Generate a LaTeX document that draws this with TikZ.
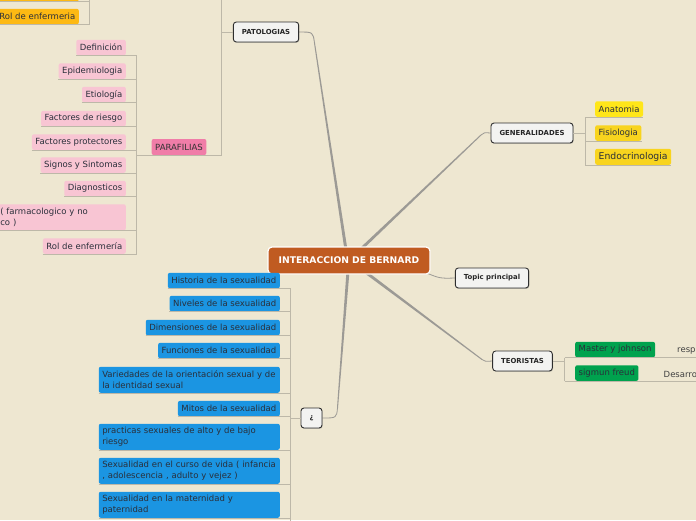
\documentclass[tikz,border=0pt]{standalone}
\usepackage{fontspec}
\setmainfont{DejaVu Sans}
\usetikzlibrary{calc,shadows}
\hyphenpenalty=10000\relax
\exhyphenpenalty=10000\relax
\definecolor{bgc}{HTML}{EEE7D1}
\definecolor{ctrc}{HTML}{C05B21}
\definecolor{bluec}{HTML}{1B95E2}
\definecolor{pinkc}{HTML}{F8C5D3}
\definecolor{parac}{HTML}{F07DA8}
\definecolor{orangec}{HTML}{FDB913}
\definecolor{yel1}{HTML}{FFE619}
\definecolor{yel2}{HTML}{F8D41E}
\definecolor{greenc}{HTML}{00A24E}
\definecolor{kidtext}{HTML}{2A2F3A}
\definecolor{hdrfill}{HTML}{F3F3F1}
\definecolor{hdrline}{HTML}{2E2E2E}
\definecolor{brkc}{HTML}{BDB8A8}
\definecolor{connc}{HTML}{9C9A95}
\pgfdeclarelayer{back}\pgfdeclarelayer{lines}
\pgfsetlayers{back,lines,main}
\newcommand\taperline[2]{\fill[connc] ($(#1)!1.5pt!90:(#2)$) -- ($(#2)!0.5pt!-90:(#1)$) -- ($(#2)!0.5pt!90:(#1)$) -- ($(#1)!1.5pt!-90:(#2)$) -- cycle;}
\tikzset{
  kid/.style={rounded corners=2pt, inner xsep=3.5pt, inner ysep=0pt, minimum height=15.5pt,
    font=\fontsize{8.5}{11}\selectfont, text=kidtext, anchor=south east},
  bluebox/.style={kid, fill=bluec},
  pinkbox/.style={kid, fill=pinkc},
  orangebox/.style={kid, fill=orangec},
  yelbox/.style={kid, fill=yel2, anchor=south west},
  greenbox/.style={kid, fill=greenc, anchor=south west},
  multi/.style={text width=174pt, align=left, minimum height=26pt},
  hdr/.style={draw=hdrline, line width=0.9pt, fill=hdrfill, rounded corners=3pt, minimum height=20pt,
    inner xsep=8.5pt, inner ysep=0pt, font=\bfseries\fontsize{6.9}{8}\selectfont, text=black!85,
    drop shadow={opacity=0.35, shadow xshift=0.7pt, shadow yshift=-0.9pt}},
  brk/.style={draw=brkc, line width=0.9pt},
  conn/.style={draw=connc, line width=0.8pt},
  plaintext/.style={inner sep=0pt, font=\fontsize{8.5}{11}\selectfont, text=black!75, anchor=west}
}
\begin{document}
\begin{tikzpicture}[x=1pt,y=-1pt]
\useasboundingbox (0,0) rectangle (696,520);
\begin{pgfonlayer}{back}
\fill[bgc] (0,0) rectangle (696,520);
\end{pgfonlayer}
\clip (0,0) rectangle (696,520);

% center
\node[rounded corners=4pt, fill=ctrc, draw=white, line width=1.2pt, minimum width=162pt, minimum height=27pt,
  font=\bfseries\fontsize{9.2}{11}\selectfont, text=white] (ctr) at (349,260.5) {INTERACCION DE BERNARD};

% headers
\node[hdr] (pat) at (266,32) {PATOLOGIAS};
\node[hdr] (gen) at (532,133) {GENERALIDADES};
\node[hdr] (top) at (492,278) {Topic principal};
\node[hdr] (teo) at (522.5,361) {TEORISTAS};
\node[hdr, minimum width=21pt, inner xsep=2pt] (q) at (311.5,418) {¿};

% bracket coordinates
\coordinate (tx) at (221.5,0);
\coordinate (txtop) at (221.5,-10);
\coordinate (px) at (136.5,0);
\coordinate (ox) at (89,0);
\coordinate (oxtop) at (89,-10);
\coordinate (bx) at (290.5,0);
\coordinate (bxend) at (290.5,530);
\coordinate (gx) at (585,0);
\coordinate (tex) at (564.5,0);
\coordinate (rx) at (700,0);

% orange (cut) children
\node[orangebox, minimum width=86pt] (o0) at (79,1.5) {};
\node[orangebox] (o1) at (79,24.5) {Rol de enfermeria};

% PARAFILIAS
\node[kid, fill=parac, anchor=center, minimum height=16pt, text=black!80] (para) at (179,147) {PARAFILIAS};
\node[pinkbox] (p1) at (126,55.5) {Definición};
\node[pinkbox] (p2) at (126,79) {Epidemiologia};
\node[pinkbox] (p3) at (126,102.5) {Etiología};
\node[pinkbox] (p4) at (126,126.5) {Factores de riesgo};
\node[pinkbox] (p5) at (126,150) {Factores protectores};
\node[pinkbox] (p6) at (126,173) {Signos y Sintomas};
\node[pinkbox] (p7) at (126,196.5) {Diagnosticos};
\node[pinkbox, text width=122pt, align=left, minimum height=26pt] (p8) at (126,230.5) {( farmacologico y no\\co )};
\node[pinkbox] (p9) at (126,254) {Rol de enfermería};

% generalidades children
\node[yelbox, fill=yel1] (g1) at (595,117) {Anatomia};
\node[yelbox] (g2) at (595,141) {Fisiologia};
\node[yelbox, minimum height=16pt, font=\fontsize{9.3}{11}\selectfont] (g3) at (595,165) {Endocrinologia};

% teoristas children
\node[greenbox] (t1) at (575,357.5) {Master y johnson};
\node[greenbox] (t2) at (575,381) {sigmun freud};
\node[plaintext] (t1a) at (677,350.5) {resp};
\node[plaintext] (t2a) at (663.5,374) {Desarro};

% blue children
\node[bluebox] (b1) at (280,288.5) {Historia de la sexualidad};
\node[bluebox] (b2) at (280,311.5) {Niveles de la sexualidad};
\node[bluebox] (b3) at (280,335.5) {Dimensiones de la sexualidad};
\node[bluebox] (b4) at (280,358.5) {Funciones de la sexualidad};
\node[bluebox, multi] (b5) at (280,393) {Variedades de la orientación sexual y de la identidad sexual};
\node[bluebox] (b6) at (280,416.5) {Mitos de la sexualidad};
\node[bluebox, multi] (b7) at (280,450) {practicas sexuales de alto y de bajo riesgo};
\node[bluebox, multi] (b8) at (280,484) {Sexualidad en el curso de vida ( infancia , adolescencia , adulto y vejez )};
\node[bluebox, multi] (b9) at (280,518) {Sexualidad en la maternidad y paternidad};

\begin{pgfonlayer}{lines}
% main connectors
\coordinate (s1) at (346,250);
\coordinate (e1) at (314.5,43);
\taperline{s1}{e1}
\draw[conn, line width=0.9pt] (e1) .. controls (313,32) .. (pat.east);
\coordinate (s2) at (360,250);
\coordinate (e2) at (481,135);
\taperline{s2}{e2}
\draw[conn] (e2) .. controls (484,132.5) .. (gen.west);
\coordinate (s3) at (424,272);
\draw[conn] (s3) .. controls (440,278.5) .. (top.west);
\coordinate (s4) at (364,271);
\coordinate (e4) at (482,359.5);
\taperline{s4}{e4}
\draw[conn] (e4) .. controls (485,361.5) .. (teo.west);
\coordinate (s5) at (348,271);
\coordinate (e5) at (337.5,408);
\taperline{s5}{e5}
\draw[conn] (e5) .. controls (336.5,418) .. (q.east);
\end{pgfonlayer}

% patologias brackets
\draw[brk] (txtop) -- (para.south -| tx);
\draw[brk] (pat.west) -- (pat.west -| tx);
\draw[brk] (para.south -| px) -- (para.south -| tx);
\draw[brk] (p1.south -| px) -- (p9.south -| px);
\foreach \n in {p1,p2,p3,p4,p5,p6,p7,p8,p9} {\draw[brk] (\n.south west) -- (\n.south -| px);}
\draw[brk] (oxtop) -- (o1.south -| ox);
\foreach \n in {o0,o1} {\draw[brk] (\n.south west) -- (\n.south -| ox);}

% generalidades bracket
\draw[brk] (gen.east) -- (gen.east -| gx);
\draw[brk] (g1.south -| gx) -- (g3.south -| gx);
\foreach \n in {g1,g2,g3} {\draw[brk] (\n.south -| gx) -- (\n.south east);}

% teoristas bracket
\draw[brk] (teo.east) -- (teo.east -| tex);
\draw[brk] (t1.south -| tex) -- (t2.south -| tex);
\draw[brk] (t1.south -| tex) -- (t1.south -| rx);
\draw[brk] (t2.south -| tex) -- (t2.south -| rx);

% blue bracket
\draw[brk] (q.west) -- (q.west -| bx);
\draw[brk] (b1.south -| bx) -- (bxend);
\foreach \n in {b1,b2,b3,b4,b5,b6,b7,b8,b9} {\draw[brk] (\n.south west) -- (\n.south -| bx);}
\end{tikzpicture}
\end{document}
